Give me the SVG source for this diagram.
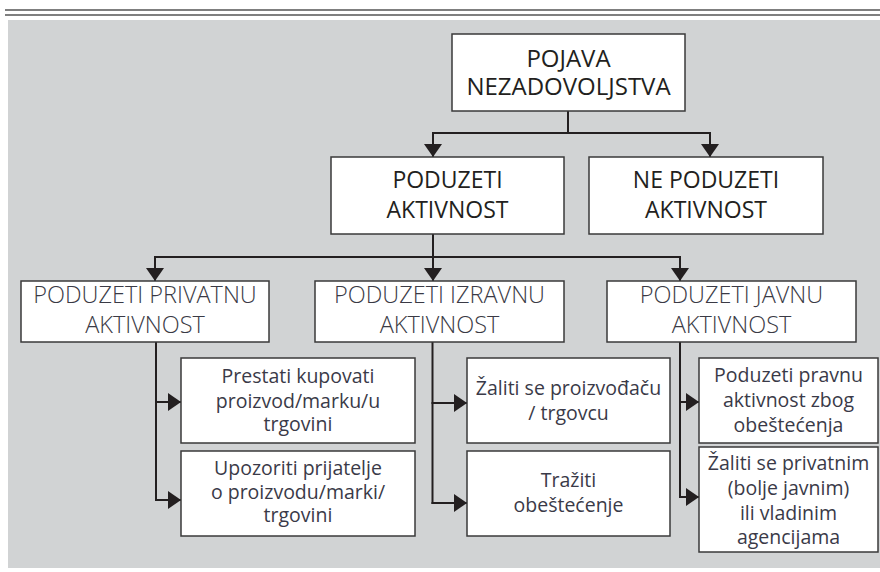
<svg xmlns="http://www.w3.org/2000/svg" width="880" height="572" viewBox="0 0 880 572">
<defs>
<marker id="arr" viewBox="0 0 13 18" refX="13" refY="9" markerWidth="13" markerHeight="18" markerUnits="userSpaceOnUse" orient="auto">
<path d="M0,0 L13,9 L0,18 z" fill="#231f20"/>
</marker>
<style>
.box{fill:#fff;stroke:#3a3a3a;stroke-width:1.5}
.c{fill:none;stroke:#231f20;stroke-width:2}
.a{marker-end:url(#arr)}
text{font-family:"Open Sans","Noto Sans","Liberation Sans",sans-serif;text-anchor:middle}
.t1{font-size:24px;font-weight:500;fill:#231f20}
.t2{font-size:23px;font-weight:500;fill:#231f20}
.t3{font-size:23.5px;font-weight:300;fill:#3a3a45}
.t4{font-size:19.5px;font-weight:400;fill:#3a3a48}
</style>
</defs>
<rect x="0" y="0" width="880" height="572" fill="#fff"/>
<line x1="5" y1="10" x2="880" y2="10" stroke="#555" stroke-width="1.6"/>
<line x1="5" y1="15" x2="880" y2="15" stroke="#555" stroke-width="1.6"/>
<rect x="8" y="20" width="872" height="548" fill="#d1d3d4"/>

<g id="connectors">
<path class="c" d="M568,111 V133"/>
<path class="c" d="M433,133 H710"/>
<path class="c a" d="M433,132 V157"/>
<path class="c a" d="M710,132 V157"/>
<path class="c" d="M433,234 V257"/>
<path class="c" d="M155,257 H680"/>
<path class="c a" d="M155,256 V281"/>
<path class="c a" d="M433,256 V281"/>
<path class="c a" d="M680,256 V281"/>
<path class="c" d="M156,342 V501"/>
<path class="c a" d="M155,402 H181"/>
<path class="c a" d="M155,500 H181"/>
<path class="c" d="M432.5,342 V504"/>
<path class="c a" d="M431.5,403 H467"/>
<path class="c a" d="M431.5,503 H467"/>
<path class="c" d="M680,342 V498"/>
<path class="c a" d="M679,402 H699"/>
<path class="c a" d="M679,497 H699"/>
</g>

<g id="n-pojava">
<rect class="box" x="452" y="34" width="233" height="77"/>
<text class="t1" x="568.5" y="67">POJAVA</text>
<text class="t1" x="568.5" y="95">NEZADOVOLJSTVA</text>
</g>
<g id="n-poduzeti">
<rect class="box" x="331" y="157" width="233" height="77"/>
<text class="t2" x="447.5" y="188">PODUZETI</text>
<text class="t2" x="447.5" y="218">AKTIVNOST</text>
</g>
<g id="n-ne-poduzeti">
<rect class="box" x="589" y="157" width="234" height="77"/>
<text class="t2" x="706" y="188">NE PODUZETI</text>
<text class="t2" x="706" y="218">AKTIVNOST</text>
</g>
<g id="n-privatnu">
<rect class="box" x="21" y="281" width="248" height="61"/>
<text class="t3" x="145" y="303">PODUZETI PRIVATNU</text>
<text class="t3" x="145" y="333">AKTIVNOST</text>
</g>
<g id="n-izravnu">
<rect class="box" x="315" y="281" width="249" height="61"/>
<text class="t3" x="439.5" y="303">PODUZETI IZRAVNU</text>
<text class="t3" x="439.5" y="333">AKTIVNOST</text>
</g>
<g id="n-javnu">
<rect class="box" x="607" y="281" width="249" height="61"/>
<text class="t3" x="731.5" y="303">PODUZETI JAVNU</text>
<text class="t3" x="731.5" y="333">AKTIVNOST</text>
</g>
<g id="n-prestati">
<rect class="box" x="181" y="358" width="234" height="85"/>
<text class="t4" x="298" y="383">Prestati kupovati</text>
<text class="t4" x="298" y="407.5">proizvod/marku/u</text>
<text class="t4" x="298" y="431">trgovini</text>
</g>
<g id="n-upozoriti">
<rect class="box" x="181" y="451" width="234" height="85"/>
<text class="t4" x="298" y="475">Upozoriti prijatelje</text>
<text class="t4" x="298" y="498.5">o proizvodu/marki/</text>
<text class="t4" x="298" y="522">trgovini</text>
</g>
<g id="n-zaliti-proizvodacu">
<rect class="box" x="467" y="358" width="203" height="85"/>
<text class="t4" x="568.5" y="395">Žaliti se proizvođaču</text>
<text class="t4" x="568.5" y="420">/ trgovcu</text>
</g>
<g id="n-traziti">
<rect class="box" x="467" y="451" width="203" height="85"/>
<text class="t4" x="568.5" y="487">Tražiti</text>
<text class="t4" x="568.5" y="512">obeštećenje</text>
</g>
<g id="n-pravnu">
<rect class="box" x="699" y="358" width="179" height="85"/>
<text class="t4" x="788.5" y="382">Poduzeti pravnu</text>
<text class="t4" x="788.5" y="407">aktivnost zbog</text>
<text class="t4" x="788.5" y="432">obeštećenja</text>
</g>
<g id="n-zaliti-agencijama">
<rect class="box" x="699" y="447" width="179" height="105"/>
<text class="t4" x="788.5" y="470">Žaliti se privatnim</text>
<text class="t4" x="788.5" y="495">(bolje javnim)</text>
<text class="t4" x="788.5" y="520">ili vladinim</text>
<text class="t4" x="788.5" y="544">agencijama</text>
</g>
</svg>
